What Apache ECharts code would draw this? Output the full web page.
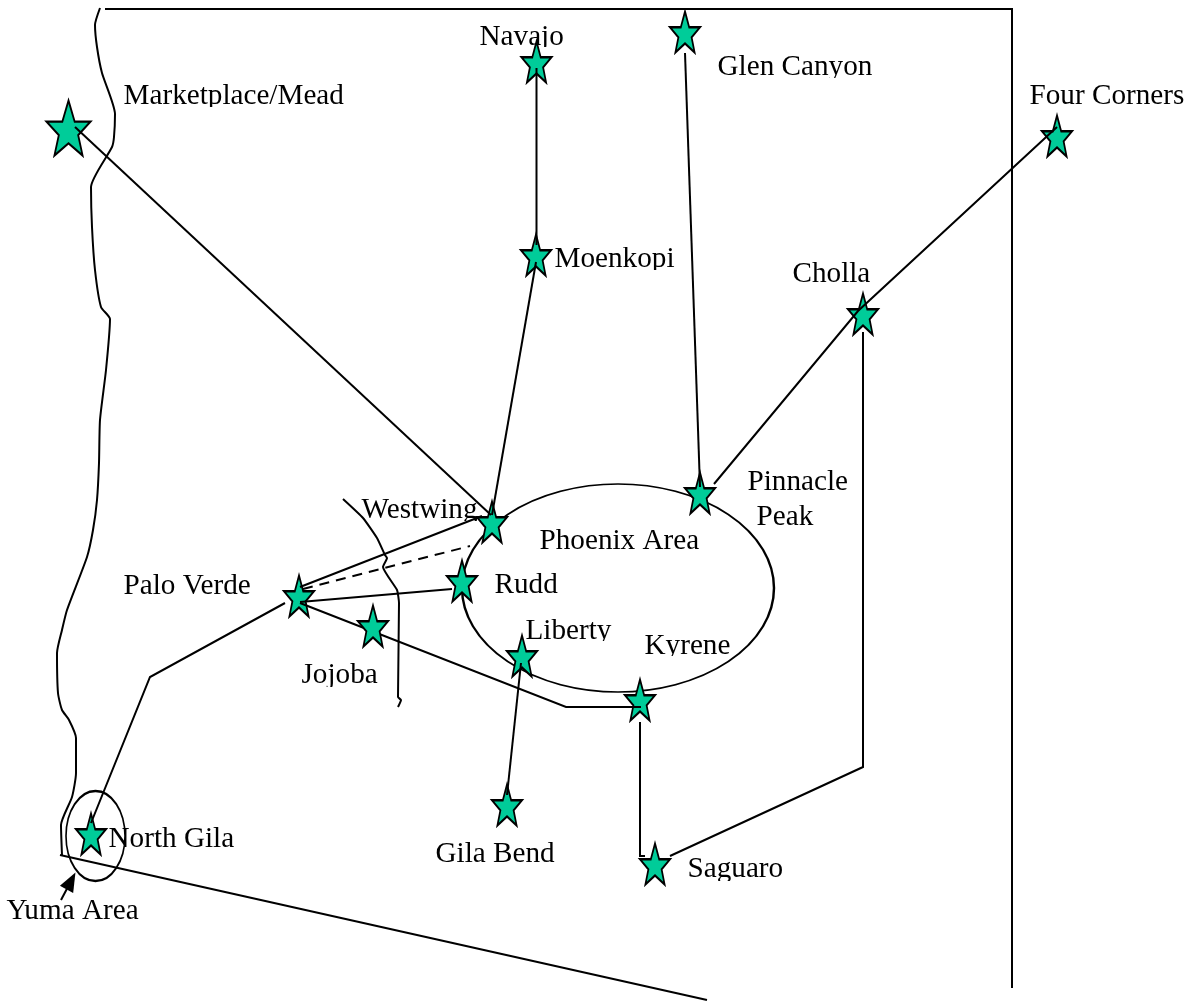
<!DOCTYPE html>
<html><head><meta charset="utf-8">
<style>html,body{margin:0;padding:0;background:#fff}#c{width:1191px;height:1002px}</style>
<script src="https://cdn.jsdelivr.net/npm/echarts@6/dist/echarts.min.js"></script>
</head><body><div id="c"></div>
<script>
// Stations: marker centres
const stations = [[536.5,62],[685,32],[536,255],[1057,136],[863,314],[700,493],[492,522],[462,581],[299,596],[522,656],[640,700],[507,805],[655,864],[91,834]];
const topStations = [[373,626]];
const bigStations = [[68.5,128]];
// Labels: name, left edge, text baseline
const labelNames = ['Navajo','Glen Canyon','Marketplace/Mead','Four Corners','Moenkopi','Cholla','Pinnacle','Peak','Westwing','Phoenix Area','Rudd','Palo Verde','Jojoba','Liberty','Kyrene','North Gila','Yuma Area','Gila Bend','Saguaro'];
const labelX = [480,718,124,1030,555,793,748,757,362,540,495,124,302,526,645,109,7,436,688];
const labelBase = [45,75,104,104,267,282,490,525,518,549,593,594,683,639,654,847,919,862,877];
// Clipped descenders: [x, y, w, h]
const clips = [[478,47,90,11],[716,78,160,10],[122,107,226,9],[553,270,125,12],[360,521,120,9],[524,641,92,10],[643,656,92,10],[300,687,82,9],[686,881,104,9]];
// Paths
const frame = [[105,9],[1012,9],[1012,988]];
const coast = [[100,8],[95,25],[97,47],[102,73],[115,114],[114,137],[112,147],[91,187],[92,227],[95,270],[101,307],[110,319],[106,370],[100,420],[99,463],[97,500],[93,530],[87,557],[67,610],[62,630],[57,653],[58,693],[62,710],[69,720],[76,738],[76,773],[72,797],[61,825],[62,855]];
const southBorder = [[60,855],[707,1000]];
const countyLine = [[343,499],[363,518],[377,538],[385,555],[387,558],[383,567],[397,590],[399,603],[398,697],[401,700],[398,707]];
const marketplaceLine = [[75,127],[491,515]];
const navajoLine = [[536.5,68],[536.5,245]];
const moenkopiLine = [[536,262],[492,515]];
const glenLine = [[685,53],[700,487]];
const fourCornersLine = [[714,484],[858,311],[1057,127]];
const chollaLine = [[863,332],[863,767],[670,856]];
const saguaroLine = [[640,722],[640,856],[645,856]];
const northGilaLine = [[285,603],[150,677],[91,823]];
const westwingLine = [[300,587],[482,516]];
const westwingDashed = [[303,589],[470,546]];
const ruddLine = [[300,602],[452,589]];
const kyreneLine = [[300,603],[566,707],[641,707]];
const libertyLine = [[521,663],[507,795]];
const yumaArrow = [[61,900],[70,883]];
const yumaHead = [[71,881]];
const phoenixEllipse = [[618,588]];
const yumaEllipse = [[95.5,836]];

const FONT = '"Liberation Serif","Times New Roman",serif';
const STAR = 'path://M50 0 L64 38.5 L100 38.5 L72 63 L82 100 L50 78 L18 100 L28 63 L0 38.5 L36 38.5 Z';
const ink = '#000';
const line = (data, z, extra, smooth) => ({type:'line',data,z,symbol:'none',silent:true,clip:false,smooth:smooth||false,
  lineStyle:Object.assign({color:ink,width:2,join:'miter',cap:'butt'},extra||{})});
const under = [line(frame,3),line(coast,3,null,0.2),line(southBorder,3),line(countyLine,3,null,0.15)];
const over = [marketplaceLine,navajoLine,moenkopiLine,glenLine,fourCornersLine,chollaLine,saguaroLine,northGilaLine,westwingLine,ruddLine,kyreneLine,libertyLine].map(d=>line(d,6));
const ring = (d,size)=>({type:'scatter',data:d,z:3,symbol:'circle',symbolSize:size,silent:true,
  itemStyle:{color:'transparent',borderColor:ink,borderWidth:2,opacity:1}});
const stars = (d,size,z)=>({type:'scatter',data:d,z,symbol:STAR,symbolSize:size,silent:true,
  itemStyle:{color:'#00CC99',borderColor:ink,borderWidth:2,borderJoin:'miter',borderMiterLimit:10,opacity:1}});

const option = {
  animation:false,
  backgroundColor:'#fff',
  grid:{left:0,right:0,top:0,bottom:0},
  xAxis:{type:'value',min:0,max:1191,show:false},
  yAxis:{type:'value',min:0,max:1002,inverse:true,show:false},
  series:[
    {type:'scatter',z:1,silent:true,symbolSize:1,itemStyle:{color:'transparent',opacity:1},
      data:labelNames.map((n,i)=>({name:n,value:[labelX[i],labelBase[i]-7]})),
      label:{show:true,position:[0,0],align:'left',verticalAlign:'middle',formatter:p=>p.name,
        fontFamily:FONT,fontSize:29.2,color:'#000',opacity:1}},
    {type:'scatter',z:2,silent:true,symbol:'rect',itemStyle:{color:'#fff',opacity:1},
      data:clips.map(c=>({value:[c[0]+c[2]/2,c[1]+c[3]/2],symbolSize:[c[2],c[3]]}))},
    ...under,
    ring(phoenixEllipse,[312,208]),
    ring(yumaEllipse,[59,90]),
    stars(stations,[30,41],5),
    stars(topStations,[30,41],7),
    stars(bigStations,[44,55],5),
    ...over,
    line(westwingDashed,6,{type:[10,7]}),
    line(yumaArrow,6),
    {type:'scatter',data:yumaHead,z:6,symbol:'triangle',symbolSize:[15,19],symbolRotate:-28,silent:true,itemStyle:{color:ink,opacity:1}}
  ]
};
const chart = echarts.init(document.getElementById('c'),null,{renderer:'canvas'});
chart.setOption(option);
</script></body></html>
